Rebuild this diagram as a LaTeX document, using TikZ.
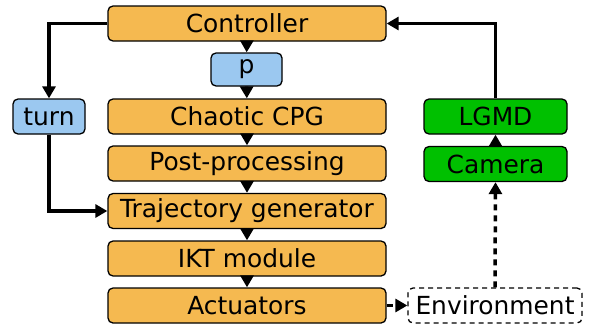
\documentclass[tikz,border=0pt]{standalone}
\usepackage{fontspec}
\setmainfont{DejaVu Sans}
\usetikzlibrary{arrows.meta}
\definecolor{boxorange}{RGB}{245,185,80}
\definecolor{boxblue}{RGB}{155,200,240}
\definecolor{boxgreen}{RGB}{0,192,0}
\tikzset{
  blk/.style={draw=black, line width=1.3pt, rounded corners=5pt, inner sep=0pt,
    minimum height=35pt, font=\fontsize{24.9}{28}\selectfont},
  orangebox/.style={blk, fill=boxorange, minimum width=278pt},
  bluebox/.style={blk, fill=boxblue},
  greenbox/.style={blk, fill=boxgreen, minimum width=143pt},
  envbox/.style={blk, dash pattern=on 5pt off 4pt, minimum width=174pt},
  tipline/.style={line width=3.5pt, -{Triangle[length=12pt 0 0,width=13pt 0 0]}},
  bigline/.style={line width=3.5pt, line join=miter, -{Triangle[length=12pt 0 0,width=13pt 0 0]}},
  dashline/.style={bigline, dash pattern=on 6pt off 5pt},
}
\begin{document}
\begin{tikzpicture}[x=1pt,y=-1pt]
\useasboundingbox (0,0) rectangle (594,324);
\node[orangebox] (ctrl) at (247,23.5) {Controller};
\node[bluebox, minimum width=71pt, minimum height=33pt] (p) at (246.5,69.5) {p};
\node[orangebox] (cpg) at (247,116.5) {Chaotic CPG};
\node[orangebox] (post) at (247,163.5) {Post-processing};
\node[orangebox] (traj) at (247,211) {Trajectory generator};
\node[orangebox] (ikt) at (247,258.5) {IKT module};
\node[orangebox] (act) at (247,305.5) {Actuators};
\node[bluebox, minimum width=72pt] (turn) at (49,116.5) {turn};
\node[greenbox] (lgmd) at (495.5,116.5) {LGMD};
\node[greenbox] (cam) at (495.5,164) {Camera};
\node[envbox] (env) at (495,305.5) {Environment};
\draw[tipline] (ctrl) -- (p);
\draw[tipline] (p) -- (cpg);
\draw[tipline] (cpg) -- (post);
\draw[tipline] (post) -- (traj);
\draw[tipline] (traj) -- (ikt);
\draw[tipline] (ikt) -- (act);
\draw[tipline] (cam) -- (lgmd);
\draw[bigline] (ctrl.west) -| (turn.north);
\draw[bigline] (turn.south) |- (traj.west);
\draw[bigline] (lgmd.north) |- (ctrl.east);
\draw[dashline] (act.east) -- (env.west);
\draw[dashline] (env.north) -- (cam.south);
\end{tikzpicture}
\end{document}
